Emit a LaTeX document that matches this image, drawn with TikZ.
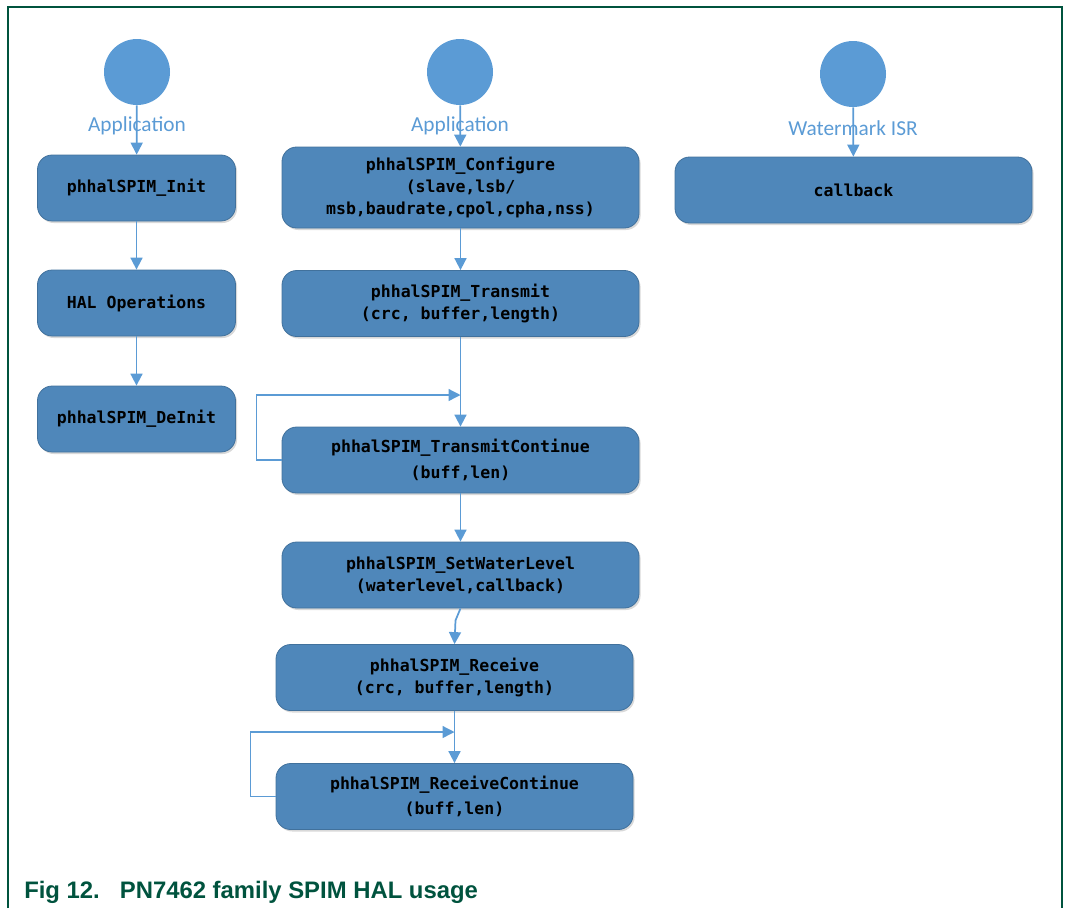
\documentclass[tikz,border=0pt]{standalone}
\usepackage{fontspec}
\setmainfont{Liberation Sans}
\newfontfamily\boxfont{DejaVu Sans Mono}
\newfontfamily\labelfont{Carlito}
\usetikzlibrary{arrows.meta,shadows}
\definecolor{nxpgreen}{RGB}{0,83,62}
\definecolor{flowblue}{RGB}{91,155,213}
\definecolor{boxblue}{RGB}{79,135,186}
\definecolor{boxedge}{RGB}{65,113,156}

\begin{document}
\begin{tikzpicture}[x=0.75pt,y=-0.75pt]
        \tikzstyle{start}=[circle,fill=flowblue,minimum size=49.5pt,inner sep=0pt]
        \tikzstyle{startlabel}=[text=flowblue,inner sep=0pt,font=\labelfont\fontsize{16}{19}\selectfont]
        \tikzstyle{func}=[rounded corners=11pt,fill=boxblue,draw=boxedge,line width=0.6pt,minimum height=49.5pt,align=center,inner sep=2pt,font=\boxfont\bfseries\fontsize{12.4}{16.5}\selectfont,drop shadow={shadow xshift=1.2pt,shadow yshift=-1.5pt,fill=black,opacity=0.15}]
        \tikzstyle{narrow}=[minimum width=148.5pt]
        \tikzstyle{wide}=[minimum width=267.75pt]
        \tikzstyle{flow}=[draw=flowblue,line width=1.3pt,-{Triangle[length=9pt,width=9pt]}]
        \tikzstyle{loopback}=[draw=flowblue,line width=1pt,-{Triangle[length=9pt,width=9pt]}]

        \useasboundingbox (0,0) rectangle (1066,908);
        \draw[nxpgreen, line width=1.1pt] (8,908) -- (8,7) -- (1062,7) -- (1062,908);

        % start points
        \node (app1)[start] at (137,72) {};
        \node (app2)[start] at (460,72) {};
        \node (isr)[start] at (853,74) {};
        \node (app1label)[startlabel] at (137,126) {Application};
        \node (app2label)[startlabel] at (460,126) {Application};
        \node (isrlabel)[startlabel] at (853,128) {Watermark ISR};

        % left column
        \node (init)[func, narrow] at (136.5,188) {phhalSPIM\_Init};
        \node (halop)[func, narrow] at (136.5,303) {HAL Operations};
        \node (deinit)[func, narrow] at (136.5,419) {phhalSPIM\_DeInit};

        % middle column
        \node (config)[func, wide, minimum height=60.75pt] at (460.5,187.5) {phhalSPIM\_Configure\\(slave,lsb/\\msb,baudrate,cpol,cpha,nss)};
        \node (transmit)[func, wide] at (460.5,303.5) {phhalSPIM\_Transmit\\(crc, buffer,length)};
        \node (txcont)[func, wide] at (460.5,460) {phhalSPIM\_TransmitContinue\\[3pt](buff,len)};
        \node (setwl)[func, wide] at (460.5,575) {phhalSPIM\_SetWaterLevel\\(waterlevel,callback)};
        \node (receive)[func, wide] at (454.5,677.5) {phhalSPIM\_Receive\\(crc, buffer,length)};
        \node (rxcont)[func, wide] at (454.5,796.5) {phhalSPIM\_ReceiveContinue\\[2pt](buff,len)};

        % right column
        \node (callback)[func, wide] at (853.5,190) {callback};

        \coordinate (txjoin) at (460.5,395);
        \coordinate (rxjoin) at (454.5,732);

        \draw[flow] (app1) -- (init);
        \draw[flow] (init) -- (halop);
        \draw[flow] (halop) -- (deinit);

        \draw[flow] (app2) -- (config);
        \draw[flow] (config) -- (transmit);
        \draw[flow] (transmit) -- (txcont);
        \draw[loopback] (txcont.west) -- ++(-25,0) |- (txjoin);
        \draw[flow] (txcont) -- (setwl);
        \draw[flow] (setwl.south) -- ++(-5,12) -- (receive.north);
        \draw[flow] (receive) -- (rxcont);
        \draw[loopback] (rxcont.west) -- ++(-25,0) |- (rxjoin);

        \draw[flow] (isr) -- (callback);

        \node (caption)[anchor=base west, text=nxpgreen, inner sep=0pt, font=\bfseries\fontsize{17.9}{20}\selectfont] at (24,898) {Fig 12.\hspace{15pt}PN7462 family SPIM HAL usage};
    \end{tikzpicture}
\end{document}
